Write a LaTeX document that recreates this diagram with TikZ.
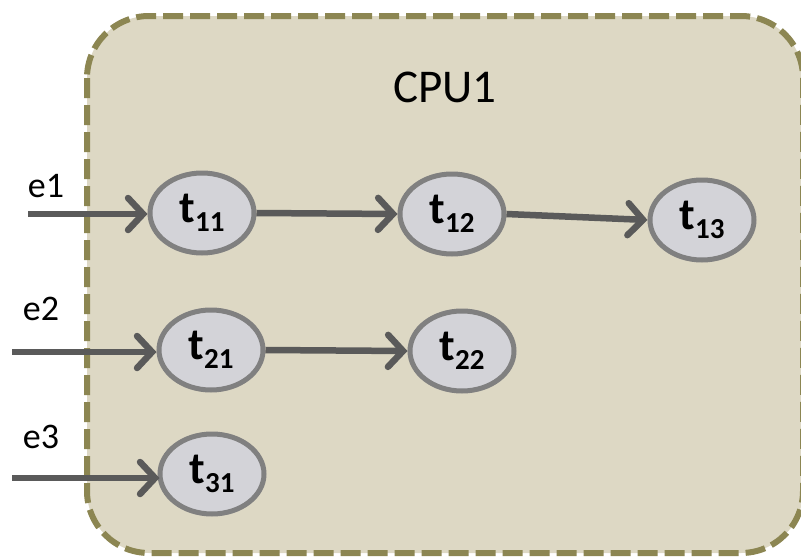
\documentclass[tikz,border=0pt]{standalone}
\usepackage{fontspec}
\setmainfont{Carlito}
\usetikzlibrary{arrows.meta,shapes.geometric}
\definecolor{boxfill}{RGB}{221,216,196}
\definecolor{boxline}{RGB}{140,134,82}
\definecolor{taskfill}{RGB}{211,211,216}
\definecolor{taskline}{RGB}{128,128,128}
\definecolor{arrowgray}{RGB}{90,90,90}
\tikzset{
  task/.style={ellipse, draw=taskline, fill=taskfill, line width=5pt,
    minimum width=104pt, minimum height=80pt, inner sep=0pt},
  flow/.style={draw=arrowgray, line width=6.5pt,
    -{Straight Barb[length=15pt, width=32pt, line width=6.5pt, line cap=round]}},
  evlabel/.style={font=\fontsize{36}{36}\selectfont, inner sep=0pt}
}
\newcommand{\tlabel}[1]{{\fontsize{45}{45}\selectfont\bfseries t\raisebox{-9pt}{\fontsize{29}{29}\selectfont\bfseries #1}}}
\begin{document}
\begin{tikzpicture}[x=1pt,y=-1pt]
  \useasboundingbox (0,0) rectangle (801,557);
  % processor boundary
  \draw[fill=boxfill, draw=boxline, line width=6pt, dash pattern=on 20pt off 7pt,
        rounded corners=62pt] (87,16) rectangle (803,553);
  \node[font=\fontsize{47}{47}\selectfont] (cpu) at (445,87) {CPU1};

  % tasks
  \node[task] (t11) at (202,213) {\tlabel{11}};
  \node[task] (t12) at (452,214) {\tlabel{12}};
  \node[task] (t13) at (702,220) {\tlabel{13}};
  \node[task] (t21) at (211,350) {\tlabel{21}};
  \node[task] (t22) at (462,351) {\tlabel{22}};
  \node[task] (t31) at (212,474) {\tlabel{31}};

  % external events
  \coordinate (s1) at (28,214);
  \coordinate (s2) at (12,352);
  \coordinate (s3) at (12,478);
  \node[evlabel] (e1) at (46,186) {e1};
  \node[evlabel] (e2) at (41,309) {e2};
  \node[evlabel] (e3) at (41,437) {e3};

  \draw[flow] (s1) -- (t11.west |- s1);
  \draw[flow] (s2) -- (t21.west |- s2);
  \draw[flow] (s3) -- ([xshift=2pt]t31.west |- s3);
  \draw[flow] (t11.east) -- (t12.west);
  \draw[flow] (t12.east) -- (t13.west);
  \draw[flow] (t21.east) -- (t22.west);
\end{tikzpicture}
\end{document}
